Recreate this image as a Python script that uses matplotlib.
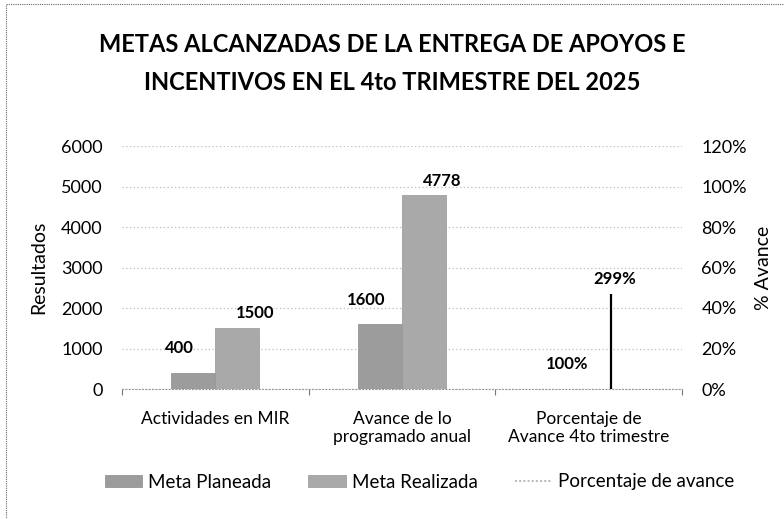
import numpy as np
import matplotlib
matplotlib.use("Agg")
import matplotlib.pyplot as plt
import matplotlib.ticker as ticker
from matplotlib.patches import Patch, Rectangle
from matplotlib.lines import Line2D

# data
categorias = ["Actividades en MIR", "Avance de lo\nprogramado anual", "Porcentaje de\nAvance 4to trimestre"]
meta_planeada = [400, 1600, 1.00]
meta_realizada = [1500, 4778, 2.99]
etq_planeada = ["400", "1600", "100%"]
etq_realizada = ["1500", "4778", "299%"]
linea_avance_tope = 2340  # thin vertical mark drawn for 299%
y_ticks = [0, 1000, 2000, 3000, 4000, 5000, 6000]
y2_ticks = [0, 0.2, 0.4, 0.6, 0.8, 1.0, 1.2]

PLAN_COLOR = "#9c9c9c"
REAL_COLOR = "#a9a9a9"
GRID_COLOR = "#bdbdbd"

plt.rcParams.update({
    "font.family": ["Lato", "DejaVu Sans"],
    "font.size": 12,
})

fig = plt.figure(figsize=(7.84, 5.19), dpi=100)
ax = fig.add_axes([122 / 784, 1 - 389 / 519, 560 / 784, 243 / 519])

x = np.arange(len(categorias))
w = 0.236
ax.bar(x - w / 2, meta_planeada, w, color=PLAN_COLOR, edgecolor="#8a8a8a", linewidth=0.5, zorder=3)
ax.bar(x + w / 2, meta_realizada, w, color=REAL_COLOR, edgecolor="#959595", linewidth=0.5, zorder=3)
ax.vlines(x[2] + w / 2, 0, linea_avance_tope, color="black", linewidth=1.6, zorder=4)

# data labels
for i in range(len(categorias)):
    ax.annotate(etq_planeada[i], (x[i] - w / 2, meta_planeada[i]), xytext=(-10 if i < 2 else 0, 12),
                textcoords="offset points", ha="center", va="bottom", fontsize=12, fontweight="bold")
    top = meta_realizada[i] if i < 2 else linea_avance_tope
    ax.annotate(etq_realizada[i], (x[i] + w / 2, top), xytext=(13 if i < 2 else 3, 5),
                textcoords="offset points", ha="center", va="bottom", fontsize=12, fontweight="bold")

ax.set_xlim(-0.5, 2.5)
ax.set_ylim(0, 6000)
ax.set_yticks(y_ticks)
ax.yaxis.grid(True, linestyle=(0, (1, 2)), color=GRID_COLOR, linewidth=0.9, zorder=0)
ax.set_axisbelow(True)
for s in ["top", "right", "left"]:
    ax.spines[s].set_visible(False)
ax.spines["bottom"].set_linestyle((0, (1, 2)))
ax.spines["bottom"].set_color("#9a9a9a")
ax.tick_params(axis="y", length=0, pad=14, labelsize=13)
ax.set_xticks(x)
ax.set_xticklabels(categorias, fontsize=12.5, linespacing=1.1)
ax.tick_params(axis="x", length=0, pad=16)
ax.set_xticks([-0.5, 0.5, 1.5, 2.5], minor=True)
ax.tick_params(axis="x", which="minor", length=4, color="#777777", width=0.8)
ax.set_ylabel("Resultados", fontsize=14, labelpad=10)

ax2 = ax.twinx()
ax2.set_ylim(0, 1.2)
ax2.set_yticks(y2_ticks)
ax2.yaxis.set_major_formatter(ticker.PercentFormatter(1.0, decimals=0))
ax2.tick_params(axis="y", length=0, pad=14, labelsize=13)
for s in ax2.spines.values():
    s.set_visible(False)
ax2.set_ylabel("% Avance", fontsize=14, rotation=90, labelpad=6)

fig.text(0.5, 1 - 45 / 519, "METAS ALCANZADAS DE LA ENTREGA DE APOYOS E", ha="center", va="center",
         fontsize=17, fontweight="bold")
fig.text(0.5, 1 - 83 / 519, "INCENTIVOS EN EL 4to TRIMESTRE DEL 2025", ha="center", va="center",
         fontsize=17, fontweight="bold")

handles = [Patch(facecolor=PLAN_COLOR, edgecolor="#8a8a8a", linewidth=0.5),
           Patch(facecolor=REAL_COLOR, edgecolor="#959595", linewidth=0.5),
           Line2D([0], [0], color=GRID_COLOR, linestyle=(0, (1, 1)), linewidth=1.5)]
fig.legend(handles, ["Meta Planeada", "Meta Realizada", "Porcentaje de avance"], ncol=3,
           loc="center", bbox_to_anchor=(0.535, 1 - 482 / 519), frameon=False, fontsize=13.5,
           handlelength=2.0, handleheight=0.6, columnspacing=2.0, handletextpad=0.3)

# chart frame (left and top edges visible)
fig.patches.append(Rectangle((6 / 784, -0.1), 1.2, 1 - 4 / 519 + 0.1, transform=fig.transFigure,
                             fill=False, edgecolor="#666666", linewidth=0.8, linestyle=(0, (1, 1))))

fig.savefig("out.png", dpi=100)
